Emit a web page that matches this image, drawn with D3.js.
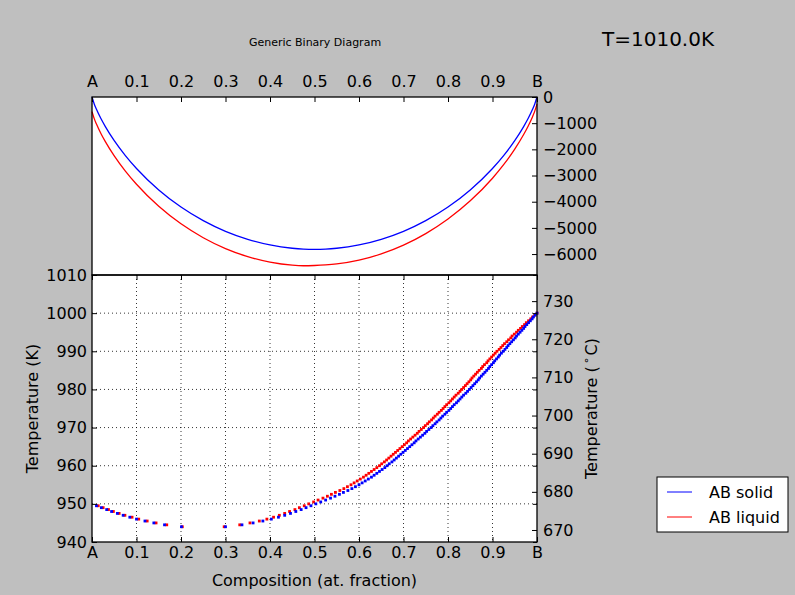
<!DOCTYPE html>
<html>
<head>
<meta charset="utf-8">
<script src="https://cdn.jsdelivr.net/npm/d3@7"></script>
<style>
body { margin: 0; background: #bfbfbf; }
svg { display: block; font-family: "DejaVu Sans", sans-serif; }
.axis path { display: none; }
.axis line { stroke: #000; stroke-width: 1; }
.axis text { font-size: 16px; fill: #000; font-family: "DejaVu Sans", sans-serif; }
.grid line { stroke: #000; stroke-width: 0.8; stroke-dasharray: 1,3; }
</style>
</head>
<body>
<div id="chart"></div>
<script>
// Gibbs energy curves (top panel)
var compGrid = [0, 0.005, 0.01, 0.02, 0.03, 0.05, 0.075, 0.1, 0.15, 0.2, 0.25, 0.3, 0.35, 0.4, 0.45, 0.475, 0.5,
                0.525, 0.55, 0.6, 0.65, 0.7, 0.75, 0.8, 0.85, 0.9, 0.925, 0.95, 0.97, 0.98, 0.99, 0.995, 1];
var gSolid = [0, -264, -470, -823, -1131, -1667, -2237, -2730, -3549, -4202, -4722, -5130, -5436, -5651, -5778, -5810, -5820,
              -5810, -5778, -5651, -5436, -5130, -4722, -4202, -3549, -2730, -2237, -1667, -1131, -823, -470, -264, 0];
var gLiquid = [-560, -827, -1035, -1393, -1706, -2251, -2832, -3335, -4175, -4845, -5375, -5790, -6098, -6308, -6425, -6446, -6437,
               -6415, -6378, -6234, -5994, -5659, -5218, -4661, -3967, -3103, -2586, -1991, -1434, -1115, -751, -540, -270];

// phase boundary points (bottom panel), A-rich branch
var tempsLeft = [949.5, 949.0, 948.5, 948.0, 947.5, 947.0, 946.5, 946.0, 945.5, 945.0, 944.5, 944.0];
var solidLeft = [0.010, 0.021, 0.033, 0.044, 0.057, 0.070, 0.085, 0.100, 0.119, 0.139, 0.163, 0.201];
var liquidLeft = [0.014, 0.025, 0.037, 0.048, 0.061, 0.074, 0.090, 0.105, 0.124, 0.144, 0.168, 0.203];

// B-rich branch
var tempsRight = [
  944.0, 944.5, 945.0, 945.5, 946.0, 946.5, 947.0, 947.5, 948.0, 948.5,
  949.0, 949.5, 950.0, 950.5, 951.0, 951.5, 952.0, 952.5, 953.0, 953.5,
  954.0, 954.5, 955.0, 955.5, 956.0, 956.5, 957.0, 957.5, 958.0, 958.5,
  959.0, 959.5, 960.0, 960.5, 961.0, 961.5, 962.0, 962.5, 963.0, 963.5,
  964.0, 964.5, 965.0, 965.5, 966.0, 966.5, 967.0, 967.5, 968.0, 968.5,
  969.0, 969.5, 970.0, 970.5, 971.0, 971.5, 972.0, 972.5, 973.0, 973.5,
  974.0, 974.5, 975.0, 975.5, 976.0, 976.5, 977.0, 977.5, 978.0, 978.5,
  979.0, 979.5, 980.0, 980.5, 981.0, 981.5, 982.0, 982.5, 983.0, 983.5,
  984.0, 984.5, 985.0, 985.5, 986.0, 986.5, 987.0, 987.5, 988.0, 988.5,
  989.0, 989.5, 990.0, 990.5, 991.0, 991.5, 992.0, 992.5, 993.0, 993.5,
  994.0, 994.5, 995.0, 995.5, 996.0, 996.5, 997.0, 997.5, 998.0, 998.5,
  999.0, 999.5, 1000.0];
var solidRight = [
  0.300, 0.337, 0.362, 0.384, 0.403, 0.419, 0.433, 0.446, 0.458, 0.470,
  0.481, 0.492, 0.503, 0.514, 0.525, 0.536, 0.546, 0.556, 0.565, 0.575,
  0.584, 0.592, 0.600, 0.607, 0.614, 0.621, 0.628, 0.634, 0.640, 0.646,
  0.652, 0.658, 0.663, 0.668, 0.674, 0.679, 0.684, 0.689, 0.694, 0.699,
  0.704, 0.709, 0.714, 0.719, 0.724, 0.728, 0.733, 0.738, 0.743, 0.748,
  0.752, 0.757, 0.762, 0.766, 0.771, 0.775, 0.780, 0.784, 0.788, 0.793,
  0.797, 0.802, 0.806, 0.810, 0.814, 0.819, 0.823, 0.827, 0.831, 0.835,
  0.840, 0.844, 0.848, 0.852, 0.856, 0.860, 0.864, 0.868, 0.871, 0.875,
  0.879, 0.883, 0.887, 0.891, 0.894, 0.898, 0.902, 0.905, 0.909, 0.913,
  0.916, 0.920, 0.924, 0.928, 0.932, 0.935, 0.939, 0.943, 0.947, 0.951,
  0.954, 0.958, 0.962, 0.966, 0.970, 0.973, 0.977, 0.981, 0.985, 0.989,
  0.992, 0.996, 1.000];
var liquidRight = [
  0.297, 0.332, 0.355, 0.376, 0.393, 0.408, 0.421, 0.433, 0.444, 0.456,
  0.466, 0.477, 0.487, 0.498, 0.508, 0.519, 0.529, 0.538, 0.547, 0.557,
  0.566, 0.574, 0.582, 0.589, 0.596, 0.603, 0.610, 0.616, 0.622, 0.628,
  0.634, 0.640, 0.646, 0.651, 0.657, 0.662, 0.667, 0.672, 0.677, 0.682,
  0.687, 0.692, 0.697, 0.702, 0.707, 0.711, 0.716, 0.721, 0.726, 0.731,
  0.735, 0.740, 0.745, 0.749, 0.754, 0.758, 0.763, 0.767, 0.771, 0.776,
  0.780, 0.785, 0.789, 0.793, 0.797, 0.802, 0.806, 0.810, 0.814, 0.818,
  0.823, 0.827, 0.831, 0.835, 0.839, 0.843, 0.847, 0.851, 0.854, 0.858,
  0.862, 0.866, 0.870, 0.875, 0.878, 0.882, 0.887, 0.890, 0.894, 0.898,
  0.902, 0.906, 0.910, 0.915, 0.919, 0.923, 0.927, 0.932, 0.936, 0.941,
  0.944, 0.949, 0.954, 0.958, 0.963, 0.967, 0.972, 0.976, 0.981, 0.986,
  0.990, 0.995, 1.000];

var xTicks = [0, 0.1, 0.2, 0.3, 0.4, 0.5, 0.6, 0.7, 0.8, 0.9, 1];
var gTicks = [0, -1000, -2000, -3000, -4000, -5000, -6000];
var kTicks = [940, 950, 960, 970, 980, 990, 1000, 1010];
var cTicks = [670, 680, 690, 700, 710, 720, 730];
var seriesNames = ["AB solid", "AB liquid"];
var seriesColors = ["#0000ff", "#ff0000"];

var W = 795, H = 595;
var left = 92, right = 537, gTop = 97, split = 275, bottom = 542;

var svg = d3.select("#chart").append("svg")
    .attr("width", W)
    .attr("height", H);

svg.append("rect").attr("width", W).attr("height", H).attr("fill", "#bfbfbf");

var x = d3.scaleLinear().domain([0, 1]).range([left, right]);
var yG = d3.scaleLinear().domain([-6800, 0]).range([split, gTop]);
var yK = d3.scaleLinear().domain([940, 1010]).range([bottom, split]);
var yC = d3.scaleLinear().domain([940 - 273.15, 1010 - 273.15]).range([bottom, split]);

var compFmt = function(d) { return d === 0 ? "A" : d === 1 ? "B" : d3.format(".1f")(d); };
var intFmt = d3.format("d");

// panel backgrounds
svg.append("rect").attr("x", left).attr("y", gTop).attr("width", right - left).attr("height", split - gTop).attr("fill", "#fff");
svg.append("rect").attr("x", left).attr("y", split).attr("width", right - left).attr("height", bottom - split).attr("fill", "#fff");

// grid in lower panel
svg.append("g").attr("class", "grid")
  .selectAll("line").data(xTicks.slice(1, -1)).enter().append("line")
    .attr("x1", function(d) { return x(d); }).attr("x2", function(d) { return x(d); })
    .attr("y1", split).attr("y2", bottom);
svg.append("g").attr("class", "grid")
  .selectAll("line").data(kTicks.slice(1, -1)).enter().append("line")
    .attr("x1", left).attr("x2", right)
    .attr("y1", function(d) { return yK(d); }).attr("y2", function(d) { return yK(d); });

// energy curves
var line = d3.line().curve(d3.curveMonotoneX);
var gSeries = [gSolid, gLiquid];
gSeries.forEach(function(vals, i) {
  svg.append("path")
    .attr("d", line(compGrid.map(function(c, j) { return [x(c), yG(vals[j])]; })))
    .attr("fill", "none")
    .attr("stroke", seriesColors[i])
    .attr("stroke-width", 1.3);
});

// phase boundary dots
function dots(xs, ts, color) {
  svg.append("g").selectAll("rect").data(xs).enter().append("rect")
    .attr("x", function(d) { return x(d) - 1.4; })
    .attr("y", function(d, i) { return yK(ts[i]) - 1.4; })
    .attr("width", 2.8).attr("height", 2.8)
    .attr("fill", color);
}
dots(liquidLeft, tempsLeft, seriesColors[1]);
dots(liquidRight, tempsRight, seriesColors[1]);
dots(solidLeft, tempsLeft, seriesColors[0]);
dots(solidRight, tempsRight, seriesColors[0]);

// axes
svg.append("g").attr("class", "axis")
  .attr("transform", "translate(0," + gTop + ")")
  .call(d3.axisTop(x).tickValues(xTicks).tickFormat(compFmt).tickSizeInner(-5).tickSizeOuter(0).tickPadding(10));
svg.append("g").attr("class", "axis")
  .attr("transform", "translate(" + right + ",0)")
  .call(d3.axisRight(yG).tickValues(gTicks).tickFormat(intFmt).tickSizeInner(-5).tickSizeOuter(0).tickPadding(6));

svg.append("g").attr("class", "axis")
  .attr("transform", "translate(0," + bottom + ")")
  .call(d3.axisBottom(x).tickValues(xTicks).tickFormat(compFmt).tickSizeInner(-5).tickSizeOuter(0).tickPadding(5));
svg.append("g").attr("class", "axis")
  .attr("transform", "translate(0," + split + ")")
  .call(d3.axisTop(x).tickValues(xTicks).tickFormat("").tickSizeInner(-5).tickSizeOuter(0));
svg.append("g").attr("class", "axis")
  .attr("transform", "translate(" + left + ",0)")
  .call(d3.axisLeft(yK).tickValues(kTicks).tickFormat(intFmt).tickSizeInner(-5).tickSizeOuter(0).tickPadding(5));
svg.append("g").attr("class", "axis")
  .attr("transform", "translate(" + right + ",0)")
  .call(d3.axisRight(yK).tickValues(kTicks).tickFormat("").tickSizeInner(-4).tickSizeOuter(0));
svg.append("g").attr("class", "axis")
  .attr("transform", "translate(" + right + ",0)")
  .call(d3.axisRight(yC).tickValues(cTicks).tickFormat(intFmt).tickSizeInner(-5).tickSizeOuter(0).tickPadding(6));

// frames
svg.append("rect").attr("x", left).attr("y", gTop).attr("width", right - left).attr("height", split - gTop)
  .attr("fill", "none").attr("stroke", "#000").attr("stroke-width", 1.3);
svg.append("rect").attr("x", left).attr("y", split).attr("width", right - left).attr("height", bottom - split)
  .attr("fill", "none").attr("stroke", "#000").attr("stroke-width", 1.3);

// labels
svg.append("text")
  .attr("x", (left + right) / 2).attr("y", 586)
  .attr("text-anchor", "middle").attr("font-size", 16)
  .text("Composition (at. fraction)");

svg.append("text")
  .attr("transform", "translate(38," + (split + bottom) / 2 + ") rotate(-90)")
  .attr("text-anchor", "middle").attr("font-size", 16)
  .text("Temperature (K)");

var cLabel = svg.append("text")
  .attr("transform", "translate(597," + (split + bottom) / 2 + ") rotate(-90)")
  .attr("text-anchor", "middle").attr("font-size", 16);
cLabel.append("tspan").text("Temperature (");
cLabel.append("tspan").attr("font-size", 11).attr("dy", -7).attr("dx", 2).text("\u2218");
cLabel.append("tspan").attr("dy", 7).attr("dx", 2).text("C)");

svg.append("text")
  .attr("x", 315).attr("y", 46)
  .attr("text-anchor", "middle").attr("font-size", 11)
  .text("Generic Binary Diagram");

svg.append("text")
  .attr("x", 602).attr("y", 46)
  .attr("font-size", 20)
  .text("T=1010.0K");

// legend
var legend = svg.append("g").attr("transform", "translate(657,477)");
legend.append("rect").attr("width", 131).attr("height", 55)
  .attr("fill", "#fff").attr("stroke", "#000").attr("stroke-width", 1);
seriesNames.forEach(function(name, i) {
  var ly = 15 + i * 25;
  legend.append("line")
    .attr("x1", 10).attr("x2", 35).attr("y1", ly).attr("y2", ly)
    .attr("stroke", seriesColors[i]).attr("stroke-width", 1);
  legend.append("text")
    .attr("x", 52).attr("y", ly + 6)
    .attr("font-size", 16)
    .text(name);
});
</script>
</body>
</html>
